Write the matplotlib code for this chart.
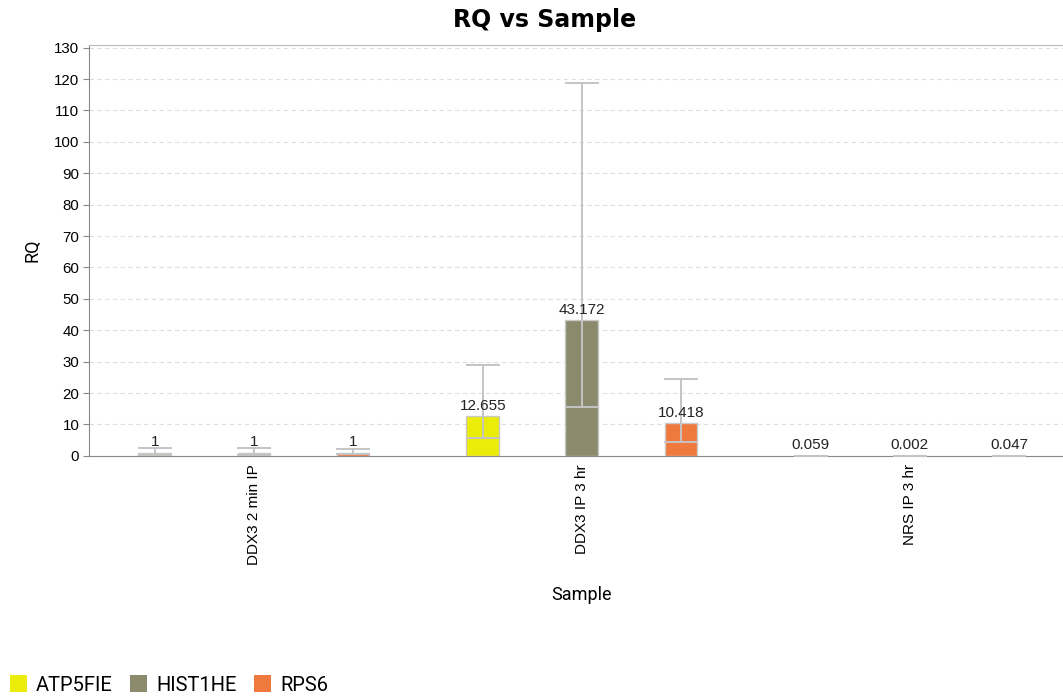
import numpy as np
import matplotlib
matplotlib.use("Agg")
import matplotlib.pyplot as plt
from matplotlib.patches import Patch

plt.rcParams['font.family'] = ['Liberation Sans', 'DejaVu Sans']

# data
samples = ["DDX3 2 min IP", "DDX3 IP 3 hr", "NRS IP 3 hr"]
genes = ["ATP5FIE", "HIST1HE", "RPS6"]
colors = ["#ecec0a", "#8b8a6c", "#f07a3e"]

rq_atp = [1, 12.655, 0.059]
rq_hist = [1, 43.172, 0.002]
rq_rps = [1, 10.418, 0.047]

min_atp = [0.4, 5.6, 0.03]
min_hist = [0.4, 15.7, 0.001]
min_rps = [0.5, 4.5, 0.02]

max_atp = [2.6, 28.9, 0.1]
max_hist = [2.6, 118.9, 0.005]
max_rps = [2.2, 24.5, 0.1]

rq = [rq_atp, rq_hist, rq_rps]
rq_min = [min_atp, min_hist, min_rps]
rq_max = [max_atp, max_hist, max_rps]

fig = plt.figure(figsize=(10.63, 6.96), dpi=100)
ax = fig.add_axes([0.0837, 0.345, 0.9163, 0.591])

x = np.arange(len(samples))
offsets = [-0.302, 0.0, 0.302]
width = 0.1

for i in range(len(genes)):
    xs = x + offsets[i]
    vals = np.array(rq[i])
    ax.bar(xs, vals, width=width, color=colors[i], edgecolor="#c8c8c8",
           linewidth=1, zorder=3)
    err = [vals - np.array(rq_min[i]), np.array(rq_max[i]) - vals]
    ax.errorbar(xs, vals, yerr=err, fmt="none", ecolor="#c4c4c4",
                elinewidth=1.4, capsize=12, capthick=1.4, zorder=4)
    for xx, v in zip(xs, vals):
        ax.annotate(f"{v:g}", (xx, v), xytext=(0, 2.5), textcoords="offset points",
                    ha="center", va="bottom", fontsize=11, color="#222222", zorder=5)

ax.set_xlim(-0.503, 2.467)
ax.set_ylim(0, 131)
ax.set_yticks(np.arange(0, 131, 10))
ax.set_xticks(x)
ax.set_xticklabels(samples, rotation=90, va="top", ha="center", fontsize=11)
ax.tick_params(axis="x", length=0, pad=6)
ax.tick_params(axis="y", length=4, color="#888888", labelsize=10.8, pad=3)
ax.yaxis.grid(True, linestyle=(0, (4, 3)), color="#dddddd", linewidth=0.8, zorder=0)
ax.set_axisbelow(True)

for s in ["left", "bottom"]:
    ax.spines[s].set_color("#888888")
ax.spines["top"].set_color("#bbbbbb")
ax.spines["right"].set_visible(False)

fig.text(545 / 1063, 1 - 20 / 696, "RQ vs Sample", ha="center", va="center",
         fontsize=17, fontweight="bold", family="DejaVu Sans")
fig.text(581 / 1063, 1 - 595 / 696, "Sample", ha="center", va="center",
         fontsize=13, family="Roboto")
fig.text(32 / 1063, 1 - 250 / 696, "RQ", ha="center", va="center", fontsize=13,
         rotation=90, family="Roboto")

handles = [Patch(facecolor=c, edgecolor="none") for c in colors]
fig.legend(handles, genes, loc="center left", bbox_to_anchor=(4 / 1063, 1 - 685 / 696),
           ncol=3, frameon=False, handlelength=0.85, handleheight=0.85,
           handletextpad=0.45, columnspacing=0.85, borderpad=0.2, borderaxespad=0.1,
           prop={"family": "Roboto", "size": 14.5})

fig.savefig("out.png", dpi=100)
